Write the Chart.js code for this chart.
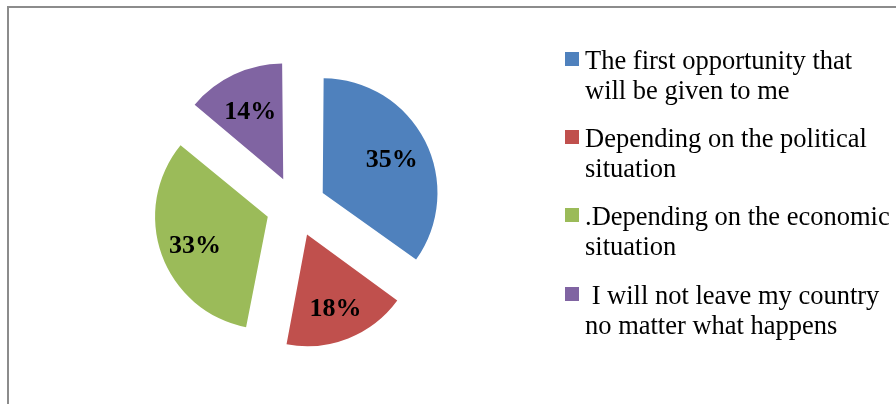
<!DOCTYPE html>
<html>
<head>
<meta charset="utf-8">
<script src="https://cdn.jsdelivr.net/npm/chart.js@4/dist/chart.umd.min.js"></script>
<style>
  html, body { margin: 0; padding: 0; background: #fff; }
  #wrap { position: relative; width: 896px; height: 404px; overflow: hidden; }
  #frame { position: absolute; left: 7px; top: 6px; right: -10px; bottom: -10px;
           border-left: 2px solid #8c8c8c; border-top: 2px solid #8c8c8c; }
  canvas { position: absolute; left: 0; top: 0; }
  .item { position: absolute; left: 565px; font-family: 'Liberation Serif', 'Times New Roman', serif;
          font-size: 26.5px; line-height: 30px; color: #000; }
  .item .box { position: absolute; left: 0; top: 7px; width: 14px; height: 14px; }
  .item .txt { position: absolute; left: 20px; top: 0; white-space: nowrap; }
</style>
</head>
<body>
<div id="wrap">
  <div id="frame"></div>
  <canvas id="c" width="896" height="404"></canvas>
</div>
<script>
// Survey answers (share of respondents, %)
const categories = [
  ['The first opportunity that', 'will be given to me'],
  ['Depending on the political', 'situation'],
  ['.Depending on the economic', 'situation'],
  [' I will not leave my country', 'no matter what happens']
];
const shares = [35, 18, 33, 14];
const sliceColors = ['#4F81BD', '#C0504D', '#9BBB59', '#8064A2'];

// Arc offset option: Chart.js v4 moves each slice out by a quarter of it
const SLICE_OFFSET = 120;

// Percentage text drawn inside each exploded slice
const sliceLabels = {
  id: 'sliceLabels',
  afterDatasetsDraw(chart) {
    const ctx = chart.ctx;
    const meta = chart.getDatasetMeta(0);
    ctx.save();
    ctx.font = 'bold 26px "Liberation Serif", "Times New Roman", serif';
    ctx.fillStyle = '#000';
    ctx.textAlign = 'center';
    ctx.textBaseline = 'middle';
    meta.data.forEach((arc, i) => {
      const p = arc.getProps(['x', 'y', 'startAngle', 'endAngle', 'outerRadius']);
      const mid = (p.startAngle + p.endAngle) / 2;
      const d = arc.options.offset / 4 + p.outerRadius * 0.71;
      ctx.fillText(shares[i] + '%', p.x + Math.cos(mid) * d, p.y + Math.sin(mid) * d + 3);
    });
    ctx.restore();
  }
};

new Chart(document.getElementById('c'), {
  type: 'pie',
  data: {
    labels: categories,
    datasets: [{
      data: shares,
      backgroundColor: sliceColors,
      borderWidth: 0,
      offset: SLICE_OFFSET,
      clip: false
    }]
  },
  options: {
    responsive: false,
    animation: false,
    radius: 109,
    layout: { padding: { left: 1, right: 305, top: 9, bottom: 0 } },
    plugins: { legend: { display: false }, tooltip: { enabled: false } }
  },
  plugins: [sliceLabels]
});

// Legend entries on the right
const wrap = document.getElementById('wrap');
const legendTops = [45, 123, 201, 280];
categories.forEach((lines, i) => {
  const item = document.createElement('div');
  item.className = 'item';
  item.style.top = legendTops[i] + 'px';
  const box = document.createElement('div');
  box.className = 'box';
  box.style.background = sliceColors[i];
  item.appendChild(box);
  const txt = document.createElement('div');
  txt.className = 'txt';
  lines.forEach((l) => {
    const ln = document.createElement('div');
    ln.textContent = l;
    ln.style.whiteSpace = 'pre';
    txt.appendChild(ln);
  });
  item.appendChild(txt);
  wrap.appendChild(item);
});
</script>
</body>
</html>
